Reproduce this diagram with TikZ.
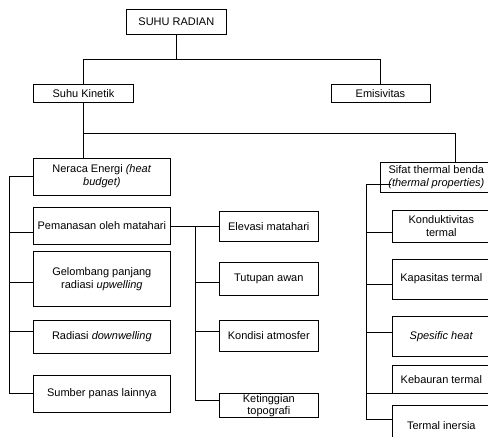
\documentclass[tikz,border=0pt]{standalone}
\usepackage{fontspec}
\setmainfont{Liberation Sans}
\begin{document}
\begin{tikzpicture}[x=1pt,y=-1pt,
  box/.style={draw, line width=0.7pt, inner sep=0pt, align=center,
    font=\fontsize{11}{13}\selectfont},
  conn/.style={line width=0.7pt},
  lcol/.style={box, minimum width=136.3pt},
  mcol/.style={box, minimum width=99pt},
  rcol/.style={box, minimum width=97.3pt}]
\useasboundingbox (0,0) rectangle (488,437);
\clip (0,0) rectangle (488,437);
% top levels
\node[box, minimum width=99.3pt, minimum height=24.7pt] (radian) at (176.35,21.65) {SUHU RADIAN};
\node[box, minimum width=99.6pt, minimum height=18.3pt] (kinetik) at (83.5,93.15) {Suhu Kinetik};
\node[box, minimum width=99pt, minimum height=18.3pt] (emis) at (380.5,93.15) {Emisivitas};
% left column
\node[lcol, minimum height=36.7pt] (neraca) at (101.85,176.65) {Neraca Energi \textit{(heat}\\\textit{budget)}};
\node[lcol, minimum height=36.6pt] (pemanasan) at (101.85,226) {Pemanasan oleh matahari};
\node[lcol, minimum height=55.7pt] (gelombang) at (101.85,278.85) {Gelombang panjang\\radiasi \textit{upwelling}};
\node[lcol, minimum height=33.3pt] (radiasi) at (101.85,336.65) {Radiasi \textit{downwelling}};
\node[lcol, minimum height=37.3pt] (sumber) at (101.85,393.65) {Sumber panas lainnya};
% middle column
\node[mcol, minimum height=30.7pt] (elevasi) at (268.8,226.35) {Elevasi matahari};
\node[mcol, minimum height=32.7pt] (tutupan) at (268.8,278.65) {Tutupan awan};
\node[mcol, minimum height=31.7pt] (kondisi) at (268.8,335.85) {Kondisi atmosfer};
\node[mcol, minimum height=24.4pt, font=\fontsize{11}{11.5}\selectfont] (ketinggian) at (268.8,405.5) {Ketinggian\\topografi};
% right column
\node[box, minimum width=111.3pt, minimum height=29.5pt, font=\fontsize{11}{13.5}\selectfont] (sifat) at (436.35,177.25) {Sifat thermal benda\\\textit{(thermal properties)}};
\node[rcol, minimum height=32.3pt] (kond) at (441.35,226.15) {Konduktivitas\\termal};
\node[rcol, minimum height=40.3pt] (kapasitas) at (441.35,279.15) {Kapasitas termal};
\node[rcol, minimum height=40.7pt] (spesific) at (441.35,336.35) {\textit{Spesific heat}};
\node[rcol, minimum height=28.3pt] (kebauran) at (441.35,379.15) {Kebauran termal};
\node[rcol, minimum height=40pt] (inersia) at (441.35,425.7) {Termal inersia};
% spine coordinates
\coordinate (top) at (0,59.3);
\coordinate (mid) at (0,133.3);
\coordinate (L) at (9.3,0);
\coordinate (M) at (195,0);
\coordinate (R) at (366.7,0);
\coordinate (sx) at (455.5,0);
% top connectors
\draw[conn] (radian.south) -- (radian.south |- top);
\draw[conn] (kinetik.north) -- (kinetik.north |- top) -- (emis.north |- top) -- (emis.north);
\draw[conn] (kinetik.south) -- (neraca.north -| kinetik.south);
\draw[conn] (kinetik.south |- mid) -- (sx |- mid) -- (sx |- sifat.north);
% left spine
\draw[conn] (neraca.west) -- (neraca.west -| L) -- (sumber.west -| L) -- (sumber.west);
\draw[conn] ([yshift=-6.7pt]pemanasan.west) -- ([yshift=-6.7pt]pemanasan.west -| L);
\draw[conn] ([yshift=-3.45pt]gelombang.west) -- ([yshift=-3.45pt]gelombang.west -| L);
\draw[conn] ([yshift=4.95pt]radiasi.west) -- ([yshift=4.95pt]radiasi.west -| L);
% middle spine
\draw[conn] ([yshift=-0.5pt]pemanasan.east) -- ([yshift=-0.5pt]pemanasan.east -| elevasi.west);
\draw[conn] ([yshift=-0.5pt]pemanasan.east -| M) -- ([yshift=5.5pt]ketinggian.west -| M) -- ([yshift=5.5pt]ketinggian.west);
\draw[conn] ([yshift=-3.65pt]tutupan.west) -- ([yshift=-3.65pt]tutupan.west -| M);
\draw[conn] ([yshift=4.15pt]kondisi.west) -- ([yshift=4.15pt]kondisi.west -| M);
% right spine
\draw[conn] ([yshift=-6.75pt,xshift=10.3pt]sifat.west) -- ([yshift=-6.75pt]sifat.west -| R) -- ([yshift=6.4pt]inersia.west -| R) -- ([yshift=6.4pt]inersia.west);
\draw[conn] ([yshift=-6.15pt]kond.west) -- ([yshift=-6.15pt]kond.west -| R);
\draw[conn] ([yshift=-4.85pt]kapasitas.west) -- ([yshift=-4.85pt]kapasitas.west -| R);
\draw[conn] ([yshift=4.05pt]spesific.west) -- ([yshift=4.05pt]spesific.west -| R);
\draw[conn] (kebauran.south west) -- (kebauran.south west -| R);
\end{tikzpicture}
\end{document}
